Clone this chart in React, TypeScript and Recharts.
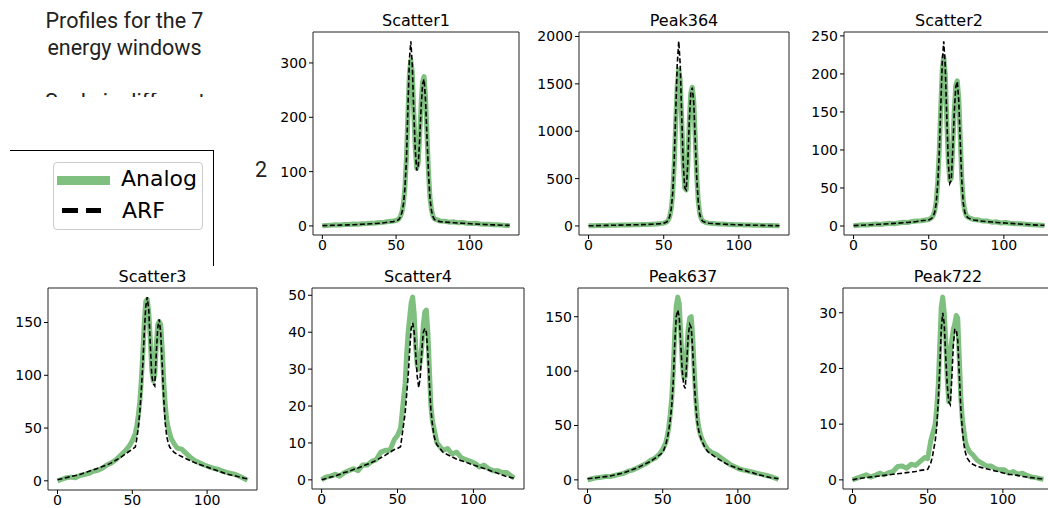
import { LineChart, Line, XAxis, YAxis, ReferenceArea } from 'recharts';

// bin index along the profile (denser sampling around the two peaks)
const xs = [
  0, 3, 6, 9, 12, 15, 18, 21, 24, 27, 30, 33, 36, 39, 42, 45, 48,
  50, 52,
  53, 54, 55, 56, 57, 58, 59, 60, 61, 62, 63, 64, 65, 66, 67, 68, 69, 70, 71, 72, 73, 74, 75, 76,
  78, 80,
  83, 86, 89, 92, 95, 98, 101, 104, 107, 110, 113, 116, 119, 122, 125,
  127,
];

const scatter1Analog = [
  0.3, 1, 1.5, 2, 1.6, 2.5, 2.8, 3.5, 3, 4, 4.3, 5, 5.5, 6.5, 7, 8, 9,
  10, 13,
  18, 26, 42, 72, 125, 205, 280, 305, 282, 208, 142, 106, 115, 165, 228, 266, 275, 236, 165, 97, 52, 30, 18, 13,
  11, 9,
  8.5, 7, 7.5, 6, 6.5, 5, 4.5, 4.8, 3.5, 3.2, 3, 2.2, 2, 1.5, 1,
  0.8,
];
const scatter1Arf = [
  0.5, 0.8, 1, 1.2, 1.5, 1.8, 2, 2.3, 2.7, 3, 3.5, 4, 4.5, 5, 6, 7, 8,
  9, 12,
  17, 25, 40, 70, 120, 215, 305, 340, 295, 210, 140, 102, 110, 160, 220, 262, 270, 230, 160, 95, 50, 28, 17, 12,
  9, 8,
  7, 6.5, 6, 5.5, 5, 4.5, 4, 3.5, 3, 2.7, 2.4, 2, 1.7, 1.4, 1.1,
  1,
];

const peak364Analog = [
  2, 3, 4, 5, 6, 7.5, 8, 9, 10.5, 11, 12.5, 13, 14.5, 16, 18, 21, 25,
  30, 42,
  62, 100, 180, 340, 650, 1100, 1480, 1650, 1540, 1100, 660, 400, 380, 640, 1100, 1400, 1465, 1320, 920, 520, 260, 130, 75, 52,
  37, 30,
  26, 22, 20, 17, 15.5, 13, 12, 10, 9, 8.5, 7, 6, 5, 4, 3.5,
  3,
];
const peak364Arf = [
  2, 3, 4, 5, 6, 7, 8, 9, 10, 11, 12, 13, 14, 16, 18, 21, 25,
  30, 42,
  62, 100, 180, 350, 700, 1200, 1700, 1950, 1700, 1150, 650, 400, 380, 650, 1100, 1400, 1460, 1300, 900, 500, 250, 120, 70, 50,
  36, 29,
  25, 22, 19, 17, 15, 13, 11.5, 10, 9, 8, 7, 6, 5, 4, 3.5,
  3,
];

const scatter2Analog = [
  0.3, 1, 1.5, 1.2, 2, 2.5, 2, 3, 3.5, 3, 4, 5, 4.5, 6, 6.5, 7, 8,
  8.5, 11,
  14, 20, 32, 58, 98, 155, 205, 223, 200, 140, 88, 60, 63, 105, 152, 185, 191, 168, 115, 63, 33, 20, 14, 11.5,
  10, 8.5,
  8, 6.5, 6.5, 5, 5.5, 4, 4.5, 3.5, 3, 3, 2.5, 2, 1.5, 1.3, 1,
  0.5,
];
const scatter2Arf = [
  0.5, 0.8, 1, 1.3, 1.6, 2, 2.3, 2.7, 3, 3.4, 3.8, 4.2, 4.7, 5.2, 6, 7, 7.5,
  8, 10,
  13, 18, 30, 55, 95, 155, 215, 243, 210, 145, 85, 56, 60, 100, 150, 183, 190, 165, 110, 60, 30, 18, 13, 11,
  9, 8,
  7, 6.3, 5.7, 5.2, 4.7, 4.3, 3.9, 3.5, 3.1, 2.7, 2.3, 1.9, 1.5, 1.2, 1,
  0.8,
];

const scatter3Analog = [
  0, 1.5, 3, 3.5, 3, 5, 6, 7, 9, 10, 12, 15, 17, 20, 24, 28, 33,
  38, 45,
  52, 62, 75, 95, 120, 150, 170, 172, 160, 135, 105, 95, 100, 128, 148, 151, 148, 125, 95, 72, 58, 50, 45, 40,
  35, 31,
  30, 26, 22, 19, 17, 15, 13.5, 12, 11, 9.5, 8, 7, 6, 4, 2,
  0.5,
];
const scatter3Arf = [
  1, 2, 3, 4, 5, 6, 7.5, 9, 10.5, 12, 13.5, 15, 17, 19.5, 22, 25, 28,
  30, 32,
  40, 50, 65, 85, 110, 140, 165, 174, 162, 130, 100, 92, 90, 120, 145, 153, 140, 110, 78, 55, 42, 36, 32, 30,
  27, 25,
  23, 21, 19, 17, 15.5, 14, 12.5, 11, 9.5, 8, 6.5, 5.5, 4.5, 3.5, 2.5,
  2,
];

const scatter4Analog = [
  0, 0.8, 1, 1.5, 1, 2, 2.5, 3, 2.5, 4, 4, 5, 5.5, 7.5, 8, 8, 11,
  12, 14,
  18, 22, 26, 34, 40, 44, 48, 49.5, 45, 36, 31, 30, 32, 36, 42, 45.5, 46, 40, 30, 20, 16, 14, 12, 10,
  9, 8,
  8.5, 7, 7.5, 6, 5.5, 5, 4.5, 3.5, 4, 3, 2.5, 2.5, 2, 2, 1,
  0.5,
];
const scatter4Arf = [
  0, 0.4, 0.8, 1, 1.5, 2, 2.3, 2.8, 3.2, 3.7, 4.2, 4.7, 5.3, 6, 6.7, 7.5, 8.2,
  8.5, 9,
  12, 15, 18, 23, 28, 35, 41, 42.5, 40, 34, 28, 25, 28, 35, 40, 41, 40, 34, 26, 19, 15, 12, 10.5, 9.5,
  8.5, 7.5,
  6.8, 6.2, 5.6, 5.2, 4.8, 4.3, 3.9, 3.5, 3.1, 2.7, 2.2, 1.8, 1.3, 0.9, 0.6,
  0.5,
];

const peak637Analog = [
  0, 1, 2, 2.5, 3, 3, 4, 5, 6, 8, 9, 11, 13, 15, 18, 20, 24,
  28, 34,
  40, 48, 60, 75, 100, 135, 160, 168, 162, 135, 108, 94, 95, 118, 140, 149, 150, 130, 100, 75, 58, 48, 42, 38,
  32, 28,
  25, 23, 20, 17, 14, 12, 10, 9, 8, 7, 6, 5, 4, 3, 1.5,
  0.5,
];
const peak637Arf = [
  1, 1.5, 2, 2.5, 3, 3.5, 4.5, 5.5, 6.5, 8, 9.5, 11, 13, 15, 17, 20, 23,
  25, 32,
  38, 45, 55, 68, 90, 125, 150, 156, 150, 125, 100, 87, 84, 108, 133, 143, 140, 118, 90, 68, 53, 45, 40, 36,
  30, 26,
  23, 20, 17.5, 15, 13, 11.5, 10, 9, 7.5, 6.5, 5, 4, 3, 2, 1.5,
  1,
];

const peak722Analog = [
  0, 0.3, 0.6, 0.9, 0.5, 0.8, 1.2, 0.9, 1.3, 1.5, 2.4, 2.5, 2.1, 2.8, 2.6, 3.3, 4,
  3.8, 7,
  8, 9, 10, 13, 17, 24, 31, 32.8, 30, 25, 18, 14, 23, 25, 27, 28, 29.5, 29, 22, 15, 11, 9, 7, 6,
  5, 4.5,
  3.5, 3, 2.5, 2.5, 2, 1.8, 1.8, 1.2, 1.5, 1, 1.2, 0.8, 0.5, 0.4, 0.2,
  0.1,
];
const peak722Arf = [
  0, 0.2, 0.3, 0.4, 0.5, 0.6, 0.7, 0.8, 0.9, 1, 1.1, 1.2, 1.3, 1.4, 1.5, 1.7, 1.8,
  1.9, 3,
  4, 5.5, 7, 9.5, 14, 20, 27, 30, 28, 22, 17, 14, 13.5, 18, 24, 27, 27, 25, 19, 13, 9, 6.5, 5, 4,
  3.2, 2.8,
  2.4, 2.2, 2, 1.8, 1.6, 1.4, 1.2, 1, 0.9, 0.8, 0.6, 0.5, 0.4, 0.3, 0.2,
  0.2,
];

const xTicks = [0, 50, 100];

const panels = [
  { title: 'Scatter1', analog: scatter1Analog, arf: scatter1Arf, ticks: [0, 100, 200, 300] },
  { title: 'Peak364', analog: peak364Analog, arf: peak364Arf, ticks: [0, 500, 1000, 1500, 2000] },
  { title: 'Scatter2', analog: scatter2Analog, arf: scatter2Arf, ticks: [0, 50, 100, 150, 200, 250] },
  { title: 'Scatter3', analog: scatter3Analog, arf: scatter3Arf, ticks: [0, 50, 100, 150] },
  { title: 'Scatter4', analog: scatter4Analog, arf: scatter4Arf, ticks: [0, 10, 20, 30, 40, 50] },
  { title: 'Peak637', analog: peak637Analog, arf: peak637Arf, ticks: [0, 50, 100, 150] },
  { title: 'Peak722', analog: peak722Analog, arf: peak722Arf, ticks: [0, 10, 20, 30] },
];

// axes frames on the page (left, top, width, height)
const frames = [
  { left: 313, top: 32, width: 206, height: 203 },
  { left: 579, top: 32, width: 210, height: 203 },
  { left: 844, top: 32, width: 210, height: 203 },
  { left: 48, top: 288, width: 209, height: 202 },
  { left: 312, top: 288, width: 212, height: 201 },
  { left: 578, top: 288, width: 210, height: 201 },
  { left: 843, top: 288, width: 210, height: 201 },
];

const MPL = '"DejaVu Sans", sans-serif';
const GREEN = '#7fbf7f';

function padded(vals: number[]): [number, number] {
  const lo = Math.min(...vals);
  const hi = Math.max(...vals);
  const m = (hi - lo) * 0.05;
  return [lo - m, hi + m];
}

function Panel({ p, box }: { p: typeof panels[number]; box: typeof frames[number] }) {
  const data = xs.map((x, i) => ({ x, analog: p.analog[i], arf: p.arf[i] }));
  const xDom = padded(xs);
  const yDom = padded([...p.analog, ...p.arf]);
  const yw = 50;
  const mt = 10;
  const mr = 2;
  const xh = 24;
  const tickStyle = { fontSize: 14, fill: '#000', fontFamily: MPL };
  return (
    <>
      <div
        style={{
          position: 'absolute',
          left: box.left,
          top: box.top - 21,
          width: box.width,
          textAlign: 'center',
          fontFamily: MPL,
          fontSize: 16,
          lineHeight: '20px',
          color: '#000',
          whiteSpace: 'nowrap',
        }}
      >
        {p.title}
      </div>
      <div style={{ position: 'absolute', left: box.left - yw, top: box.top - mt }}>
        <LineChart
          width={yw + box.width + mr}
          height={mt + box.height + xh}
          data={data}
          margin={{ top: mt, right: mr, bottom: 0, left: 0 }}
        >
          <XAxis
            dataKey="x"
            type="number"
            domain={xDom}
            ticks={xTicks}
            interval={0}
            allowDataOverflow
            axisLine={false}
            stroke="#000"
            tickSize={4}
            tickMargin={1}
            height={xh}
            tick={tickStyle}
          />
          <YAxis
            type="number"
            domain={yDom}
            ticks={p.ticks}
            interval={0}
            allowDataOverflow
            axisLine={false}
            stroke="#000"
            tickSize={4}
            tickMargin={2}
            width={yw}
            tick={tickStyle}
          />
          <ReferenceArea
            x1={xDom[0]}
            x2={xDom[1]}
            y1={yDom[0]}
            y2={yDom[1]}
            fill="none"
            fillOpacity={0}
            stroke="#222"
            strokeWidth={1}
            ifOverflow="visible"
          />
          <Line
            type="linear"
            dataKey="analog"
            stroke={GREEN}
            strokeWidth={5}
            strokeLinejoin="round"
            dot={false}
            isAnimationActive={false}
          />
          <Line
            type="linear"
            dataKey="arf"
            stroke="#000"
            strokeWidth={1.6}
            strokeDasharray="5 2.5"
            dot={false}
            isAnimationActive={false}
          />
        </LineChart>
      </div>
    </>
  );
}

export default function App() {
  return (
    <div
      style={{
        position: 'absolute',
        left: 0,
        top: 0,
        width: 1048,
        height: 508,
        overflow: 'hidden',
        background: '#fff',
      }}
    >
      <div
        style={{
          position: 'absolute',
          left: 0,
          top: 7,
          width: 249,
          textAlign: 'center',
          fontFamily: 'Roboto, sans-serif',
          fontSize: 21.5,
          lineHeight: '27px',
          color: '#222',
        }}
      >
        Profiles for the 7
        <br />
        energy windows
      </div>
      <div style={{ position: 'absolute', left: 45, top: 93, width: 200, height: 4, overflow: 'hidden' }}>
        <div
          style={{
            position: 'absolute',
            left: 0,
            top: -3,
            fontFamily: 'Roboto, sans-serif',
            fontSize: 21.5,
            lineHeight: '24px',
            color: '#222',
            whiteSpace: 'nowrap',
          }}
        >
          Scale is different
        </div>
      </div>
      <div
        style={{
          position: 'absolute',
          left: 255,
          top: 158,
          fontFamily: 'Roboto, sans-serif',
          fontSize: 21.5,
          lineHeight: '24px',
          color: '#222',
        }}
      >
        2
      </div>

      {/* legend panel: only its top and right spines show */}
      <div
        style={{
          position: 'absolute',
          left: 10,
          top: 150,
          width: 203,
          height: 115,
          borderTop: '1px solid #000',
          borderRight: '1px solid #000',
        }}
      />
      <div
        style={{
          position: 'absolute',
          left: 53,
          top: 162,
          width: 148,
          height: 66,
          border: '1px solid #ccc',
          borderRadius: 4,
          background: '#fff',
          fontFamily: MPL,
          fontSize: 22,
          color: '#000',
        }}
      >
        <div style={{ position: 'absolute', left: 3, top: 13, width: 53, height: 9, background: GREEN }} />
        <div style={{ position: 'absolute', left: 8, top: 45, width: 16, height: 5, background: '#000' }} />
        <div style={{ position: 'absolute', left: 32, top: 45, width: 15, height: 5, background: '#000' }} />
        <div style={{ position: 'absolute', left: 67, top: 1, lineHeight: '30px', whiteSpace: 'nowrap' }}>Analog</div>
        <div style={{ position: 'absolute', left: 68, top: 33, lineHeight: '30px', whiteSpace: 'nowrap' }}>ARF</div>
      </div>

      {panels.map((p, i) => (
        <Panel key={p.title} p={p} box={frames[i]} />
      ))}
    </div>
  );
}
